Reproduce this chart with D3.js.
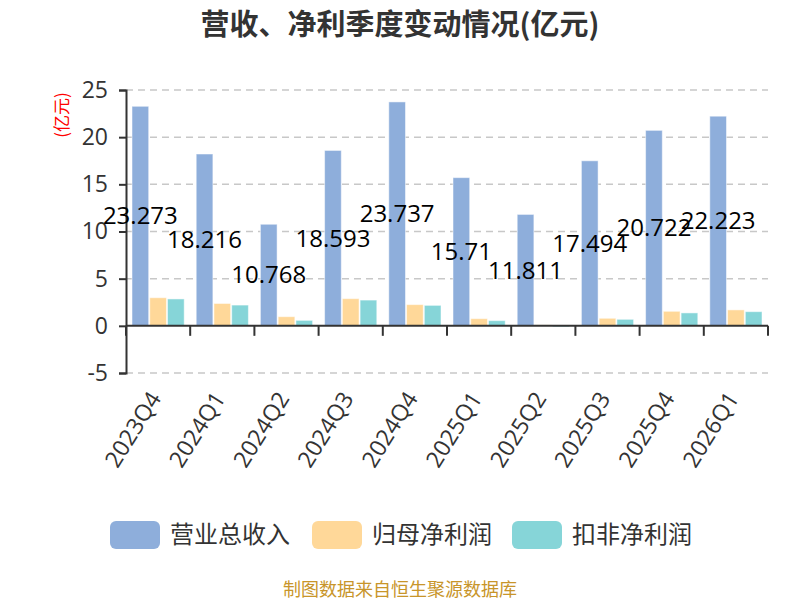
<!DOCTYPE html>
<html>
<head>
<meta charset="utf-8">
<script src="https://cdn.jsdelivr.net/npm/d3@7"></script>
<style>
  body { margin: 0; background: #fff; font-family: "Noto Sans CJK SC", "Noto Sans", sans-serif; }
</style>
</head>
<body>
<div id="chart"></div>
<script>
var quarters = ["2023Q4","2024Q1","2024Q2","2024Q3","2024Q4","2025Q1","2025Q2","2025Q3","2025Q4","2026Q1"];
var revenue = [23.273, 18.216, 10.768, 18.593, 23.737, 15.71, 11.811, 17.494, 20.722, 22.223];
var netProfit = [2.98, 2.37, 0.97, 2.88, 2.25, 0.76, 0.1, 0.8, 1.54, 1.69];
var deductedProfit = [2.85, 2.2, 0.58, 2.73, 2.17, 0.55, -0.12, 0.69, 1.37, 1.5];
var seriesNames = ["营业总收入","归母净利润","扣非净利润"];
var colors = ["#8eaedb","#ffd899","#86d5d8"];
var yTicks = [-5, 0, 5, 10, 15, 20, 25];

var width = 800, height = 600;
var plotLeft = 126, plotRight = 768, plotTop = 90, plotBottom = 373;
var latin = "'Open Sans', 'Noto Sans', sans-serif";

var svg = d3.select("#chart").append("svg").attr("width", width).attr("height", height);

var x = d3.scaleBand().domain(quarters).range([plotLeft, plotRight]);
var x1 = d3.scaleBand().domain([0,1,2]).range([6, x.bandwidth() - 6]).paddingInner(0.06);
var y = d3.scaleLinear().domain([-5, 25]).range([plotBottom, plotTop]);

// title
svg.append("text").attr("x", 400).attr("y", 35).attr("text-anchor", "middle")
    .style("font-size", "29px").style("font-weight", "bold").style("fill", "#333")
    .text("营收、净利季度变动情况(亿元)");

// grid
svg.append("g").selectAll("line").data(yTicks.filter(function(d){return d != 0;})).enter().append("line")
    .attr("x1", plotLeft).attr("x2", plotRight)
    .attr("y1", function(d){return y(d);}).attr("y2", function(d){return y(d);})
    .style("stroke", "#c8c8c8").style("stroke-width", 1.5).style("stroke-dasharray", "7,5");

// bars
var data = [revenue, netProfit, deductedProfit];
var gBars = svg.append("g");
data.forEach(function(vals, si){
    gBars.selectAll("rect.s" + si).data(vals).enter().append("rect")
        .attr("class", "s" + si)
        .attr("x", function(d, i){return x(quarters[i]) + x1(si);})
        .attr("width", x1.bandwidth())
        .attr("y", function(d){return y(Math.max(0, d));})
        .attr("height", function(d){return Math.abs(y(d) - y(0));})
        .style("fill", colors[si])
        .style("stroke", "#fff").style("stroke-opacity", 0.5).style("stroke-width", 1);
});

// y axis
var yAxis = svg.append("g").attr("transform", "translate(" + plotLeft + ",0)")
    .call(d3.axisLeft(y).tickValues(yTicks).tickSize(7).tickPadding(11).tickFormat(function(d){return String(d);}));
yAxis.select(".domain").style("stroke", "#333").style("stroke-width", 2);
yAxis.selectAll(".tick line").style("stroke", "#333").style("stroke-width", 2);
yAxis.selectAll(".tick text").style("font-size", "23px").style("fill", "#333")
    .style("font-family", latin);

// x axis at zero
var xAxis = svg.append("g").attr("transform", "translate(0," + y(0) + ")");
xAxis.append("line").attr("x1", plotLeft).attr("x2", plotRight).style("stroke", "#333").style("stroke-width", 2);
xAxis.selectAll("line.tk").data(d3.range(quarters.length + 1)).enter().append("line")
    .attr("class", "tk")
    .attr("x1", function(i){return plotLeft + i * x.step();}).attr("x2", function(i){return plotLeft + i * x.step();})
    .attr("y1", 0).attr("y2", 10).style("stroke", "#333").style("stroke-width", 2);

// x labels
svg.append("g").selectAll("text").data(quarters).enter().append("text")
    .attr("transform", function(d){return "translate(" + (x(d) + x.bandwidth()/2 - 3) + "," + (plotBottom + 21) + ") rotate(-58)";})
    .attr("text-anchor", "end").attr("dy", "0.35em")
    .style("font-size", "23px").style("fill", "#333")
    .style("font-family", latin)
    .text(function(d){return d;});

// value labels on revenue bars
svg.append("g").selectAll("text").data(revenue).enter().append("text")
    .attr("x", function(d, i){return x(quarters[i]) + x1(0) + x1.bandwidth()/2;})
    .attr("y", function(d){return (y(d) + y(0)) / 2;})
    .attr("dy", "0.35em").attr("text-anchor", "middle")
    .style("font-size", "24px").style("fill", "#000")
    .style("font-family", latin)
    .text(function(d){return d;});

// unit
svg.append("text").attr("transform", "translate(68,115) rotate(-90)")
    .attr("text-anchor", "middle").style("font-size", "17px").style("fill", "#f00")
    .text("(亿元)");

// legend
var legendX = [110, 312, 512];
var lg = svg.append("g").selectAll("g").data(seriesNames).enter().append("g")
    .attr("transform", function(d, i){return "translate(" + legendX[i] + ",521)";});
lg.append("rect").attr("width", 50).attr("height", 28).attr("rx", 6)
    .style("fill", function(d, i){return colors[i];});
lg.append("text").attr("x", 60).attr("y", 14).attr("dy", "0.35em")
    .style("font-size", "24px").style("fill", "#333").text(function(d){return d;});

// footer
svg.append("text").attr("x", 400).attr("y", 596).attr("text-anchor", "middle")
    .style("font-size", "18px").style("fill", "#c8952a")
    .text("制图数据来自恒生聚源数据库");
</script>
</body>
</html>
